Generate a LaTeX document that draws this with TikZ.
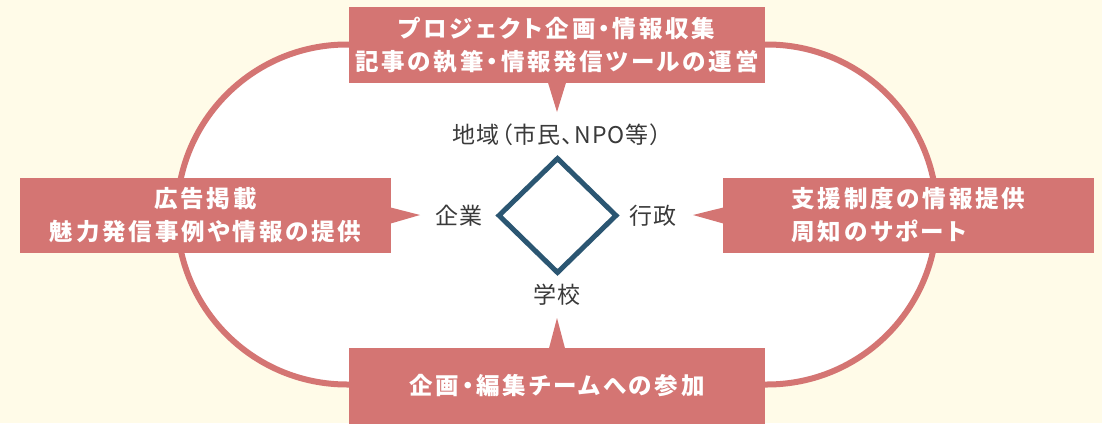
\documentclass[tikz,border=0pt]{standalone}
\usepackage{fontspec}
\usetikzlibrary{shapes.geometric}
\newfontfamily\jpb[RawFeature=+palt,LetterSpace=12]{Noto Sans CJK JP}
\newfontfamily\jpr[RawFeature=+palt,LetterSpace=5]{Noto Sans CJK JP}
\definecolor{bgc}{HTML}{FFFBE8}
\definecolor{salmon}{HTML}{D47573}
\definecolor{navy}{HTML}{2B5672}
\definecolor{txt}{HTML}{3A3A3A}
\begin{document}
\begin{tikzpicture}[x=1pt,y=-1pt,
  box/.style={fill=salmon,text=white,inner sep=0pt,font=\jpb\bfseries\fontsize{23.5}{33}\selectfont,align=center},
  lbl/.style={text=txt,inner sep=0pt,font=\jpr\fontsize{23}{27}\selectfont},
  ptr/.style={fill=salmon}]
\fill[bgc] (0,0) rectangle (1102,423);
\useasboundingbox (0,0) rectangle (1102,423);
% stadium
\filldraw[fill=white,draw=salmon,line width=6pt]
  (347,44.5) -- (767,44.5) arc[start angle=90,end angle=-90,radius=170pt]
  -- (347,384.5) arc[start angle=270,end angle=90,radius=170pt] -- cycle;
% boxes
\node[box,minimum width=416pt,minimum height=76pt] (top) at (557,45) {プロジェクト企画・情報収集\\記事の執筆・情報発信ツールの運営};
\node[box,minimum width=371pt,minimum height=75pt] (left) at (205.5,215.5) {広告掲載\\魅力発信事例や情報の提供};
\node[box,minimum width=371pt,minimum height=75pt,align=left] (right) at (908.5,215.5) {支援制度の情報提供\\周知のサポート};
\node[box,minimum width=416pt,minimum height=76pt] (bottom) at (557,386) {企画・編集チームへの参加};
% pointers
\coordinate (tt) at (557,112);
\coordinate (lt) at (420,215);
\coordinate (rt) at (693,215);
\coordinate (bt) at (557,318);
\fill[salmon] ([xshift=-9pt,yshift=0.5pt]top.south) -- (tt) -- ([xshift=9pt,yshift=0.5pt]top.south) -- cycle;
\fill[salmon] ([xshift=-0.5pt,yshift=8pt]left.east) -- (lt) -- ([xshift=-0.5pt,yshift=-8pt]left.east) -- cycle;
\fill[salmon] ([xshift=0.5pt,yshift=8pt]right.west) -- (rt) -- ([xshift=0.5pt,yshift=-8pt]right.west) -- cycle;
\fill[salmon] ([xshift=-8pt,yshift=-0.5pt]bottom.north) -- (bt) -- ([xshift=8pt,yshift=-0.5pt]bottom.north) -- cycle;
% diamond
\node[diamond,draw=navy,line width=5pt,inner sep=0pt,minimum width=119pt,minimum height=116pt,aspect=1] (dia) at (557.5,215.5) {};
% labels
\node[lbl] (chiiki) at (557,135) {地域（市民、NPO等）};
\node[lbl] (kigyo) at (459,216) {企業};
\node[lbl] (gyosei) at (653,216) {行政};
\node[lbl] (gakko) at (557,295) {学校};
\end{tikzpicture}
\end{document}
